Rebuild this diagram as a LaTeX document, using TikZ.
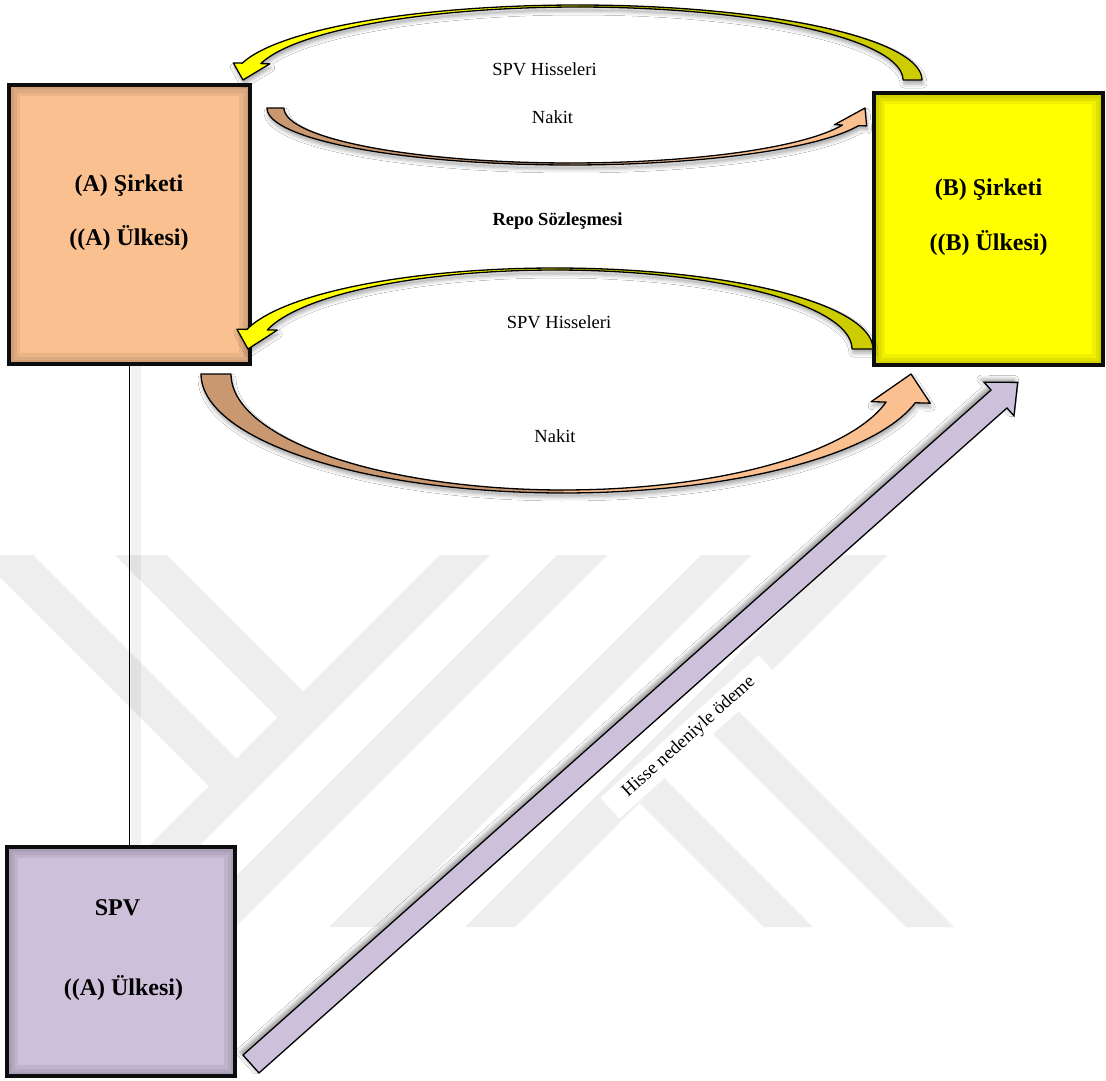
\documentclass[tikz,border=0pt]{standalone}
\usepackage{fontspec}
\setmainfont{Liberation Serif}
\usetikzlibrary{calc,shadows.blur}

\definecolor{peach}{RGB}{250,192,144}
\definecolor{peachdark}{RGB}{201,152,112}
\definecolor{yel}{RGB}{255,255,0}
\definecolor{yeldark}{RGB}{204,204,0}
\definecolor{lav}{RGB}{204,192,218}
\definecolor{wmgray}{RGB}{238,238,238}
\definecolor{edge}{RGB}{13,13,13}

% elliptic band: centre, outer radii, inner radii
\newcommand\setellipse[6]{\def\arcCx{#1}\def\arcCy{#2}\def\arcRxo{#3}\def\arcRyo{#4}\def\arcRxi{#5}\def\arcRyi{#6}}
% sweep: tail angle, colour split, head base angle, tip angle, barb length
\newcommand\setsweep[5]{\def\arcTa{#1}\def\arcTm{#2}\def\arcTh{#3}\def\arcTe{#4}\def\arcE{#5}}

% curved block arrow: name, tail colour, head colour
\newcommand\curvedarrow[3]{%
  \coordinate (#1-ho) at ({\arcCx+\arcRxo*cos(\arcTh)},{\arcCy-\arcRyo*sin(\arcTh)});
  \coordinate (#1-hi) at ({\arcCx+\arcRxi*cos(\arcTh)},{\arcCy-\arcRyi*sin(\arcTh)});
  \coordinate (#1-bo) at ($(#1-ho)!-\arcE!(#1-hi)$);
  \coordinate (#1-bi) at ($(#1-hi)!-\arcE!(#1-ho)$);
  \coordinate (#1-tip) at ({\arcCx+0.5*(\arcRxo+\arcRxi)*cos(\arcTe)},{\arcCy-0.5*(\arcRyo+\arcRyi)*sin(\arcTe)});
  \path[fill=#3, curveshadow]
    plot[domain=\arcTa:\arcTh, samples=90] ({\arcCx+\arcRxo*cos(\x)},{\arcCy-\arcRyo*sin(\x)})
    -- (#1-bo) -- (#1-tip) -- (#1-bi)
    -- plot[domain=\arcTh:\arcTa, samples=90] ({\arcCx+\arcRxi*cos(\x)},{\arcCy-\arcRyi*sin(\x)})
    -- cycle;
  \fill[#2]
    plot[domain=\arcTa:\arcTm, samples=60] ({\arcCx+\arcRxo*cos(\x)},{\arcCy-\arcRyo*sin(\x)})
    -- plot[domain=\arcTm:\arcTa, samples=60] ({\arcCx+\arcRxi*cos(\x)},{\arcCy-\arcRyi*sin(\x)})
    -- cycle;
  \draw[curveline, line join=round]
    plot[domain=\arcTa:\arcTh, samples=90] ({\arcCx+\arcRxo*cos(\x)},{\arcCy-\arcRyo*sin(\x)})
    -- (#1-bo) -- (#1-tip) -- (#1-bi)
    -- plot[domain=\arcTh:\arcTa, samples=90] ({\arcCx+\arcRxi*cos(\x)},{\arcCy-\arcRyi*sin(\x)})
    -- cycle;
}

% darker rim inside a box
\newcommand\innerglow[1]{%
  \begin{scope}
    \clip (#1.north west) rectangle (#1.south east);
    \foreach \w in {22,15,9}{
      \draw[black, opacity=0.06, line width=\w pt] (#1.north west) rectangle (#1.south east);
    }
  \end{scope}
}

\tikzset{
  firm/.style={draw=edge, line width=4.5pt, outer sep=0pt, inner sep=0pt},
  title/.style={font=\fontsize{24}{28}\selectfont\bfseries, inner sep=0pt},
  lbl/.style={font=\fontsize{18.5}{22}\selectfont, inner sep=0pt},
  lblbold/.style={font=\fontsize{18.5}{22}\selectfont\bfseries, inner sep=0pt},
  curveline/.style={draw=black, line width=1.3pt},
  curveshadow/.style={blur shadow={shadow xshift=1pt, shadow yshift=-4pt,
      shadow blur radius=4pt, shadow opacity=35}},
}

\begin{document}
\begin{tikzpicture}[x=1pt, y=-1pt]
\useasboundingbox (0,0) rectangle (1106,1081);
\fill[white] (0,0) rectangle (1106,1081);

% background stripes
\begin{scope}[wmgray]
  \fill (0,555) -- (33,555) -- (236.5,758.5) -- (209,786) -- (0,577) -- cycle;
  \fill (115,555) -- (167,555) -- (303.5,691.5) -- (277.5,717.5) -- cycle;
  \fill (440,555) -- (490,555) -- (118,927) -- (68,927) -- cycle;
  \fill (557,555) -- (607,555) -- (235,927) -- (185,927) -- cycle;
  \fill (701,555) -- (751,555) -- (379,927) -- (329,927) -- cycle;
  \fill (837,555) -- (887,555) -- (515,927) -- (465,927) -- cycle;
  \fill (664,778) -- (813,927) -- (764,927) -- (639.5,802.5) -- cycle;
  \fill (734.5,707.5) -- (954,927) -- (906,927) -- (710.5,731.5) -- cycle;
\end{scope}

% company boxes
\node[firm, fill=peach, anchor=north west, minimum width=241pt, minimum height=279pt] (A) at (9,85) {};
\node[firm, fill=yel, anchor=north west, minimum width=229pt, minimum height=272pt] (B) at (874,93) {};
\node[firm, fill=lav, anchor=north west, minimum width=228pt, minimum height=229pt] (S) at (7,847) {};

% link between company A and the SPV
\draw[black, opacity=0.05, line width=10pt] ($(A.south)+(6,0)$) -- ($(A.south |- S.north)+(6,0)$);
\draw[line width=1.3pt] (A.south) -- (A.south |- S.north);

\innerglow{A}
\innerglow{B}
\innerglow{S}
\draw[edge, line width=4.5pt] (A.north west) rectangle (A.south east);
\draw[edge, line width=4.5pt] (B.north west) rectangle (B.south east);
\draw[edge, line width=4.5pt] (S.north west) rectangle (S.south east);

\node[title, anchor=base] (A1) at (129,191.5) {(A) Şirketi};
\node[title, anchor=base] (A2) at (129,245) {((A) Ülkesi)};
\node[title, anchor=base] (B1) at (988.5,195) {(B) Şirketi};
\node[title, anchor=base] (B2) at (988.5,250) {((B) Ülkesi)};
\node[title, anchor=base] (S1) at (117.5,915) {SPV};
\node[title, anchor=base] (S2) at (123.5,995) {((A) Ülkesi)};

% repo flows
\setellipse{577.75}{80}{344.25}{75}{325.25}{73}
\setsweep{0}{90}{167}{180}{9pt}
\curvedarrow{c1}{yeldark}{yel}

\setellipse{570.25}{108}{303.25}{57}{286.25}{55}
\setsweep{180}{270}{342}{360}{8pt}
\curvedarrow{c2}{peachdark}{peach}

\setellipse{555.25}{349}{317.75}{81}{296.75}{79}
\setsweep{0}{90}{166}{180}{10pt}
\curvedarrow{c3}{yeldark}{yel}

\setellipse{563.5}{374}{362.5}{119}{332.5}{116}
\setsweep{180}{270}{346}{360}{15pt}
\curvedarrow{c4}{peachdark}{peach}

\node[lbl, anchor=base] (t1) at (544.5,76) {SPV Hisseleri};
\node[lbl, anchor=base] (t2) at (552.5,123) {Nakit};
\node[lblbold, anchor=base] (t3) at (557.5,225) {Repo Sözleşmesi};
\node[lbl, anchor=base] (t4) at (559,328) {SPV Hisseleri};
\node[lbl, anchor=base] (t5) at (555,442) {Nakit};

% payment from the SPV to company B
\coordinate (pt) at (251,1064);
\coordinate (pb) at (999,399);
\coordinate (pp) at ($(pb)!-25pt!(pt)$);
\path[fill=lav, draw=black, line width=1.3pt, line join=miter,
      blur shadow={shadow xshift=-3pt, shadow yshift=3pt, shadow blur radius=4pt, shadow opacity=40}]
  ($(pt)!12pt!90:(pb)$) -- ($(pb)!12pt!-90:(pt)$) -- ($(pb)!22.5pt!-90:(pt)$)
  -- (pp) -- ($(pb)!22.5pt!90:(pt)$) -- ($(pb)!12pt!90:(pt)$)
  -- ($(pt)!12pt!-90:(pb)$) -- cycle;

\node[lbl, fill=white, rotate=42, minimum width=213pt, minimum height=28pt] (pay) at (689,737) {Hisse nedeniyle ödeme};
\end{tikzpicture}
\end{document}
